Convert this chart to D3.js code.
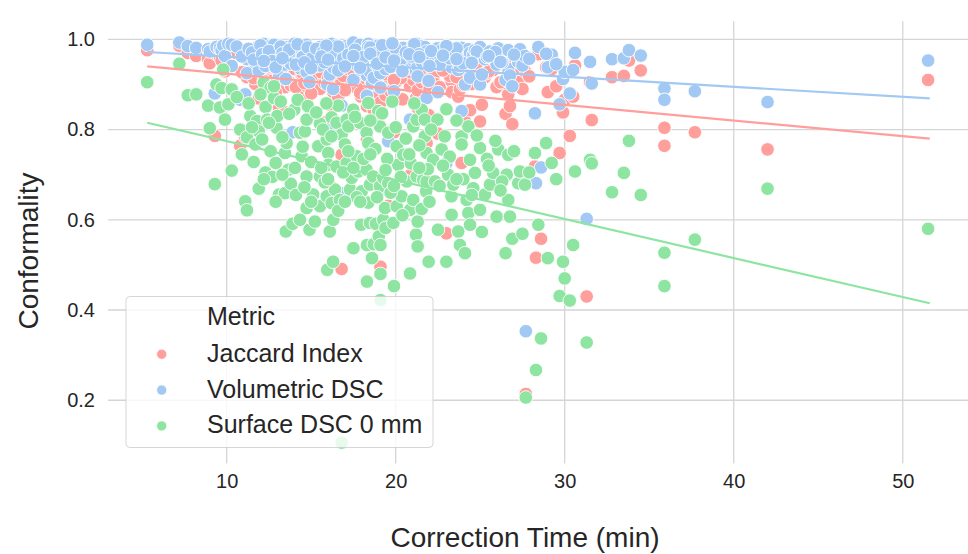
<!DOCTYPE html>
<html>
<head>
<meta charset="utf-8">
<script src="https://cdn.jsdelivr.net/npm/d3@7"></script>
<style>
  html, body { margin: 0; padding: 0; background: #fff; }
  svg { display: block; }
  text { font-family: "Liberation Sans", Arial, sans-serif; fill: #262626; }
</style>
</head>
<body>
<svg id="chart" width="968" height="554"></svg>
<script>
// Correction time per case (minutes)
const caseTime = [
  5.3, 7.2, 7.7, 8.2, 8.9, 9.0, 9.3, 9.4, 9.6, 9.7,
  9.8, 9.9, 10.1, 10.3, 10.3, 10.8, 11.1, 11.2, 11.2, 11.4,
  11.7, 11.8, 11.9, 11.9, 12.2, 12.3, 12.3, 12.4, 12.6, 12.6,
  12.8, 12.8, 12.9, 12.95, 13.0, 13.1, 13.45, 13.45, 13.5, 13.55,
  13.65, 13.9, 14.0, 14.04, 14.34, 14.34, 14.44, 14.63, 14.73, 14.73,
  14.73, 14.9, 15.12, 15.22, 15.42, 15.52, 15.52, 15.52, 15.92, 15.92,
  15.95, 16.01, 16.01, 16.1, 16.21, 16.21, 16.31, 16.3, 16.41, 16.5,
  16.5, 16.7, 16.8, 16.8, 17.0, 17.1, 17.1, 17.2, 17.3, 17.4,
  17.49, 17.5, 17.69, 17.79, 17.89, 17.95, 17.99, 18.28, 18.28, 18.3,
  18.3, 18.38, 18.38, 18.38, 18.48, 18.48, 18.6, 18.67, 18.7, 18.83,
  18.97, 19.0, 19.07, 19.07, 19.1, 19.1, 19.1, 19.27, 19.27, 19.37,
  19.4, 19.56, 19.56, 19.86, 19.9, 20.06, 20.06, 20.15, 20.35, 20.45,
  20.65, 20.85, 20.85, 21.04, 21.04, 21.2, 21.24, 21.24, 21.3, 21.3,
  21.54, 21.54, 21.63, 21.8, 21.73, 21.73, 21.83, 21.83, 21.95, 22.22,
  22.33, 22.47, 22.5, 22.72, 23.0, 23.1, 23.3, 23.31, 23.41, 23.7,
  23.8, 23.9, 23.9, 24.1, 24.2, 24.3, 24.3, 24.4, 24.4, 24.59,
  24.69, 24.99, 24.99, 25.1, 25.28, 25.58, 25.77, 25.97, 26.07, 26.5,
  26.57, 26.66, 26.66, 26.76, 26.9, 27.25, 27.35, 27.5, 27.65, 27.7,
  28.24, 28.3, 28.44, 28.6, 29.0, 29.23, 29.7, 29.9, 30.0, 30.3,
  30.5, 30.61, 31.3, 31.5, 31.6, 32.8, 33.5, 33.8, 34.5, 35.9,
  35.9, 37.7, 42.0, 51.5,
  10.6, 10.9, 11.3, 11.5, 11.6, 12.0, 12.1, 12.5, 12.7, 13.2,
  13.3, 13.7, 13.8, 14.2, 14.5, 14.8, 15.0, 15.3, 15.7, 15.8,
  16.2, 16.6, 16.9, 17.2, 17.6, 17.7, 18.1, 18.5, 18.8, 19.2,
  19.5, 19.7, 20.0, 20.3, 20.6, 20.9, 21.1, 21.4, 21.9, 22.1,
  22.6, 22.9, 23.2, 23.6, 24.0, 24.8, 25.4, 25.9, 26.3, 27.0,
  27.9, 28.9, 29.5, 19.8, 15.9, 23.0,
  12.2, 12.9, 13.3, 14.1, 14.6, 15.0, 15.6, 16.0, 16.6, 17.0,
  17.5, 17.9, 18.5, 18.9, 19.4, 19.9, 20.4, 20.8, 21.4, 22.0,
  22.8, 23.6, 24.5, 25.5, 26.2
];

// Jaccard index per case
const jaccardIndex = [
  .976, .986, .970, .963, .957, .947, .786, .967, .961, .953,
  .972, .929, .980, .976, .889, .764, .783, .860, .916, .951,
  .901, .938, .869, .970, .980, .957, .889, .927, .972, .910,
  .963, .976, .878, .942, .953, .848, .919, .894, .838, .967,
  .907, .659, .980, .934, .957, .880, .923, .970, .976, .896,
  .866, .827, .916, .887, .947, .967, .929, .890, .961, .905,
  .818, .938, .914, .855, .980, .672, .883, .802, .919, .972,
  .942, .899, .744, .491, .953, .970, .927, .963, .910, .932,
  .986, .835, .946, .901, .976, .873, .923, .957, .934, .852,
  .778, .980, .967, .889, .916, .866, .821, .942, .843, .894,
  .972, .880, .961, .929, .860, .807, .496, .947, .899, .914,
  .876, .970, .631, .890, .794, .953, .907, .938, .919, .963,
  .927, .896, .698, .976, .910, .869, .980, .942, .887, .848,
  .970, .905, .934, .923, .957, .967, .947, .770, .832, .916,
  .901, .961, .791, .953, .570, .929, .907, .883, .951, .873,
  .889, .963, .726, .818, .899, .957, .923, .942, .843, .934,
  .953, .967, .818, .855, .916, .947, .932, .894, .961, .835,
  .938, .953, .878, .852, .812, .905, .957, .890, .929, .214,
  .718, .516, .967, .558, .883, .934, .748, .838, .866, .786,
  .873, .942, .430, .905, .821, .916, .919, .953, .931, .804,
  .764, .794, .756, .910,
  .969, .927, .959, .944, .914, .974, .936, .949, .908, .969,
  .940, .955, .898, .978, .925, .965, .918, .959, .946, .903,
  .936, .969, .919, .934, .955, .892, .925, .965, .940, .974,
  .918, .885, .959, .914, .944, .927, .978, .936, .907, .949,
  .894, .940, .919, .961, .899, .947, .925, .946, .903, .934,
  .918, .938, .896, .982, .972, .970,
  .908, .883, .919, .894, .903, .880, .927, .914, .871, .887,
  .929, .881, .938, .898, .923, .910, .867, .936, .925, .889,
  .931, .916, .901, .929, .905
];

// Volumetric Dice similarity coefficient per case
const volumetricDSC = [
  .988, .993, .985, .981, .978, .973, .880, .983, .980, .976,
  .986, .963, .990, .988, .941, .866, .878, .925, .956, .975,
  .948, .968, .930, .985, .990, .978, .941, .962, .986, .953,
  .981, .988, .935, .970, .976, .918, .958, .944, .912, .983,
  .951, .794, .990, .966, .978, .936, .960, .985, .988, .945,
  .928, .905, .956, .940, .973, .983, .963, .942, .980, .950,
  .900, .968, .955, .922, .990, .804, .938, .890, .958, .986,
  .970, .947, .853, .659, .976, .985, .962, .981, .953, .965,
  .993, .910, .972, .948, .988, .932, .960, .978, .966, .920,
  .875, .990, .983, .941, .956, .928, .902, .970, .915, .944,
  .986, .936, .980, .963, .925, .893, .663, .973, .947, .955,
  .934, .985, .774, .942, .885, .976, .951, .968, .958, .981,
  .962, .945, .822, .988, .953, .930, .990, .970, .940, .918,
  .985, .950, .966, .960, .978, .983, .973, .870, .908, .956,
  .948, .980, .883, .976, .726, .963, .951, .938, .975, .932,
  .941, .981, .841, .900, .947, .978, .960, .970, .915, .966,
  .976, .983, .900, .922, .956, .973, .965, .944, .980, .910,
  .968, .976, .935, .920, .896, .950, .978, .942, .963, .353,
  .836, .681, .983, .716, .938, .966, .856, .912, .928, .880,
  .932, .970, .602, .950, .902, .956, .958, .976, .964, .891,
  .866, .885, .861, .953,
  .984, .962, .979, .971, .955, .987, .967, .974, .952, .984,
  .969, .977, .946, .989, .961, .982, .957, .979, .972, .949,
  .967, .984, .958, .966, .977, .943, .961, .982, .969, .987,
  .957, .939, .979, .955, .971, .962, .989, .967, .951, .974,
  .944, .969, .958, .980, .947, .973, .961, .972, .949, .966,
  .957, .968, .945, .991, .986, .985,
  .952, .938, .958, .944, .949, .936, .962, .955, .931, .940,
  .963, .937, .968, .946, .960, .953, .929, .967, .961, .941,
  .964, .956, .948, .963, .950
];

// Surface Dice similarity coefficient at 0 mm tolerance per case
const surfaceDSC = [
  .905, .946, .876, .878, .853, .803, .679, .900, .849, .892,
  .933, .822, .856, .889, .709, .800, .641, .621, .783, .830,
  .767, .819, .669, .796, .904, .850, .705, .822, .893, .752,
  .870, .896, .726, .804, .830, .656, .748, .659, .574, .770,
  .711, .591, .844, .715, .793, .600, .741, .796, .822, .696,
  .626, .578, .656, .596, .763, .813, .696, .630, .778, .652,
  .489, .748, .722, .574, .827, .637, .600, .507, .667, .815,
  .718, .644, .789, .106, .767, .822, .726, .807, .667, .693,
  .844, .537, .741, .707, .815, .589, .663, .793, .711, .544,
  .463, .859, .770, .638, .678, .593, .515, .696, .546, .591,
  .841, .563, .807, .674, .544, .480, .422, .693, .600, .626,
  .582, .793, .681, .593, .453, .763, .630, .722, .652, .744,
  .685, .622, .481, .807, .644, .567, .822, .696, .596, .541,
  .844, .624, .689, .663, .785, .822, .748, .685, .507, .733,
  .685, .822, .578, .756, .507, .700, .652, .611, .678, .574,
  .544, .785, .767, .526, .644, .807, .615, .733, .589, .670,
  .704, .759, .622, .573, .656, .678, .704, .607, .756, .526,
  .700, .744, .644, .607, .558, .681, .707, .569, .678, .206,
  .748, .267, .589, .337, .515, .726, .431, .507, .470, .421,
  .544, .707, .328, .733, .725, .661, .704, .775, .655, .527,
  .453, .556, .669, .580,
  .872, .745, .858, .805, .728, .878, .778, .815, .695, .862,
  .783, .835, .680, .866, .762, .852, .728, .838, .800, .683,
  .785, .853, .705, .752, .828, .650, .735, .820, .757, .836,
  .735, .660, .805, .695, .780, .725, .858, .765, .712, .800,
  .675, .785, .740, .820, .690, .787, .735, .775, .685, .752,
  .705, .770, .690, .862, .858, .845,
  .690, .640, .700, .655, .672, .640, .715, .690, .620, .640,
  .715, .640, .745, .650, .710, .675, .610, .745, .715, .640,
  .720, .690, .655, .720, .665
];

const seriesNames = ["Jaccard Index", "Volumetric DSC", "Surface DSC 0 mm"];
const seriesColors = ["#ff9f9b", "#a1c9f4", "#8de5a1"];

// Least-squares trend per metric, evaluated at the ends of the time range
const fitTimeRange = [5.3, 51.6];
const fitStart = [0.940, 0.972, 0.815];
const fitEnd = [0.780, 0.869, 0.415];

const xTicks = [10, 20, 30, 40, 50];
const yTicks = [0.2, 0.4, 0.6, 0.8, 1.0];

const seriesValues = [jaccardIndex, volumetricDSC, surfaceDSC];

const svg = d3.select("#chart");
const plot = { left: 108, right: 968, top: 21.3, bottom: 463.4 };

const x = d3.scaleLinear().domain([2.98, 53.86]).range([plot.left, plot.right]);
const y = d3.scaleLinear().domain([0.06, 1.04]).range([plot.bottom, plot.top]);

// grid
const grid = svg.append("g").attr("stroke", "#d5d5d5").attr("stroke-width", 1.3);
grid.selectAll("line.gx").data(xTicks).join("line")
  .attr("x1", d => x(d)).attr("x2", d => x(d))
  .attr("y1", plot.top).attr("y2", plot.bottom);
grid.selectAll("line.gy").data(yTicks).join("line")
  .attr("y1", d => y(d)).attr("y2", d => y(d))
  .attr("x1", plot.left).attr("x2", plot.right);

// axes (labels only, no spines or tick marks)
const xAxis = d3.axisBottom(x).tickValues(xTicks).tickFormat(d3.format("d")).tickSize(0).tickPadding(10);
const yAxis = d3.axisLeft(y).tickValues(yTicks).tickFormat(d3.format(".1f")).tickSize(0).tickPadding(13);

const gx = svg.append("g").attr("transform", `translate(0,${plot.bottom})`).call(xAxis);
const gy = svg.append("g").attr("transform", `translate(${plot.left},0)`).call(yAxis);
[gx, gy].forEach(g => {
  g.select(".domain").remove();
  g.selectAll("text").attr("font-size", 20).attr("fill", "#262626")
    .attr("font-family", '"Liberation Sans", Arial, sans-serif');
});

// points: each metric drawn in turn
const points = svg.append("g");
seriesValues.forEach((vals, k) => {
  points.append("g").selectAll("circle")
    .data(caseTime.map((t, i) => [t, vals[i]]))
    .join("circle")
    .attr("cx", d => x(d[0]))
    .attr("cy", d => y(d[1]))
    .attr("r", 6.8)
    .attr("fill", seriesColors[k])
    .attr("stroke", "#fff")
    .attr("stroke-width", 0.9);
});

// trend lines
const lines = svg.append("g");
seriesNames.forEach((name, k) => {
  lines.append("line")
    .attr("x1", x(fitTimeRange[0])).attr("y1", y(fitStart[k]))
    .attr("x2", x(fitTimeRange[1])).attr("y2", y(fitEnd[k]))
    .attr("stroke", seriesColors[k])
    .attr("stroke-width", 2.2);
});

// axis titles
svg.append("text")
  .attr("x", 525).attr("y", 547)
  .attr("text-anchor", "middle")
  .attr("font-size", 28)
  .text("Correction Time (min)");

svg.append("text")
  .attr("transform", "translate(38,251) rotate(-90)")
  .attr("text-anchor", "middle")
  .attr("font-size", 28)
  .text("Conformality");

// legend
const legend = svg.append("g");
legend.append("rect")
  .attr("x", 126).attr("y", 296.5).attr("width", 307).attr("height", 151)
  .attr("rx", 4)
  .attr("fill", "#fff").attr("fill-opacity", 0.8)
  .attr("stroke", "#cccccc").attr("stroke-opacity", 0.8).attr("stroke-width", 1);
legend.append("text")
  .attr("x", 207).attr("y", 325).attr("font-size", 25).text("Metric");
seriesNames.forEach((name, k) => {
  const cy = 354.3 + k * 35.8;
  legend.append("circle")
    .attr("cx", 161.7).attr("cy", cy).attr("r", 5)
    .attr("fill", seriesColors[k]).attr("stroke", "#fff").attr("stroke-width", 0.6);
  legend.append("text")
    .attr("x", 207).attr("y", cy + 7.5).attr("font-size", 25).text(name);
});
</script>
</body>
</html>
